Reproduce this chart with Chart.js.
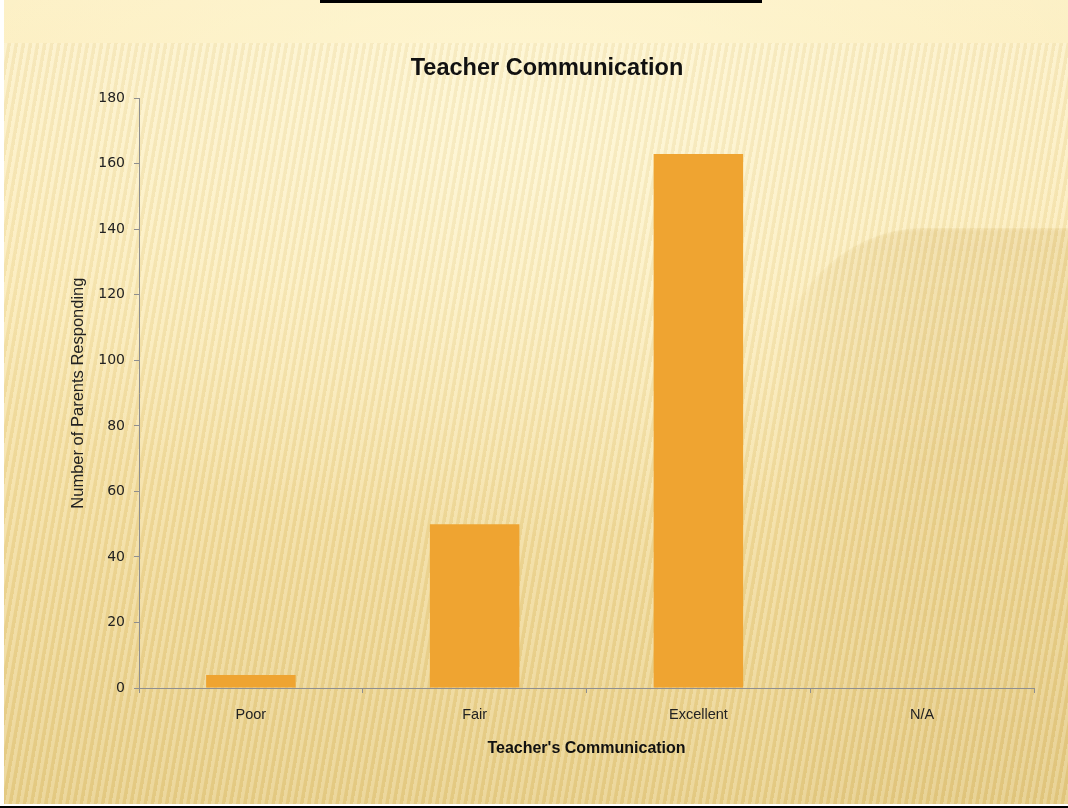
<!DOCTYPE html>
<html>
<head>
<meta charset="utf-8">
<script src="https://cdn.jsdelivr.net/npm/chart.js@4.4.1/dist/chart.umd.min.js"></script>
<style>
  html, body { margin: 0; padding: 0; }
  body { width: 1068px; height: 808px; overflow: hidden; background: #fff; position: relative; }
  #bg {
    position: absolute; left: 4px; top: 0; width: 1064px; height: 804px; overflow: hidden;
    background:
      radial-gradient(ellipse 700px 420px at 520px 120px, rgba(255,248,214,0.75) 0%, rgba(255,248,214,0) 100%),
      linear-gradient(to bottom, #fcefc4 0%, #fae8b0 35%, #f1da98 70%, #e8cf88 100%);
  }
  #shape {
    position: absolute; left: 770px; top: 228px; width: 420px; height: 700px;
    border-top-left-radius: 150px 160px;
    background: linear-gradient(to bottom, rgba(214,180,100,0.30), rgba(214,180,100,0.12));
    -webkit-mask-image: linear-gradient(to bottom right, rgba(0,0,0,1) 30%, rgba(0,0,0,0) 60%), linear-gradient(to right, rgba(0,0,0,0) 0px, rgba(0,0,0,1) 160px);
    mask-image: linear-gradient(to right, rgba(0,0,0,0) 0px, rgba(0,0,0,0.6) 60px, rgba(0,0,0,1) 150px);
    filter: blur(2px);
  }
  #stripes {
    position: absolute; left: 4px; top: 43px; width: 1064px; height: 761px;
    background: repeating-linear-gradient(100deg, rgba(255,255,255,0.17) 0px, rgba(255,255,255,0.17) 3px, rgba(170,130,50,0.08) 4px, rgba(170,130,50,0.08) 7px);
  }
  #topbar { position: absolute; left: 320px; top: 0; width: 442px; height: 3px; background: #000; }
  #botline { position: absolute; left: 0; top: 806px; width: 1068px; height: 2px; background: #000; }
  canvas { position: absolute; left: 0; top: 0; }
</style>
</head>
<body>
<div id="bg"><div id="shape"></div></div>
<div id="stripes"></div>
<div id="topbar"></div>
<div id="botline"></div>
<canvas id="c" width="1068" height="808"></canvas>
<script>
const categories = ["Poor", "Fair", "Excellent", "N/A"];
const responses = [4, 50, 163, 0];
const yTicks = [0, 20, 40, 60, 80, 100, 120, 140, 160, 180];
const chartTitle = "Teacher Communication";
const xAxisTitle = "Teacher's Communication";
const yAxisTitle = "Number of Parents Responding";

const axisGray = "#8f8f8f";

new Chart(document.getElementById("c"), {
  type: "bar",
  data: {
    labels: categories,
    datasets: [{
      data: responses,
      backgroundColor: "#EFA431",
      borderWidth: 0,
      barPercentage: 0.4,
      categoryPercentage: 1.0
    }]
  },
  options: {
    responsive: false,
    animation: false,
    layout: { padding: { left: 60, right: 34, top: 0, bottom: 31 } },
    plugins: {
      legend: { display: false },
      tooltip: { enabled: false },
      title: {
        display: true,
        text: chartTitle,
        color: "#111",
        font: { family: "'Liberation Sans', Arial, sans-serif", size: 23.5, weight: "bold" },
        padding: { top: 54, bottom: 16 }
      }
    },
    scales: {
      y: {
        min: 0, max: 180,
        afterBuildTicks: (s) => { s.ticks = yTicks.map(v => ({ value: v })); },
        afterFit: (s) => { s.width = 79; },
        border: { display: true, color: axisGray, width: 1 },
        grid: { drawOnChartArea: false, drawTicks: true, tickLength: 5, color: axisGray },
        ticks: {
          color: "#222",
          padding: 9,
          font: { family: "'DejaVu Sans', Verdana, sans-serif", size: 14 }
        },
        title: {
          display: true,
          text: yAxisTitle,
          color: "#222",
          font: { family: "'Liberation Sans', Arial, sans-serif", size: 16.5 },
          padding: { top: 9, bottom: 0 }
        }
      },
      x: {
        afterFit: (s) => { s.height = 89; },
        border: { display: true, color: axisGray, width: 1 },
        grid: { offset: true, drawOnChartArea: false, drawTicks: true, tickLength: 5, color: axisGray },
        ticks: {
          color: "#222",
          padding: 13,
          font: { family: "'Liberation Sans', Arial, sans-serif", size: 14.5 }
        },
        title: {
          display: true,
          text: xAxisTitle,
          color: "#111",
          font: { family: "'Liberation Sans', Arial, sans-serif", size: 16, weight: "bold" },
          padding: { top: 0, bottom: 19 }
        }
      }
    }
  }
});
</script>
</body>
</html>
